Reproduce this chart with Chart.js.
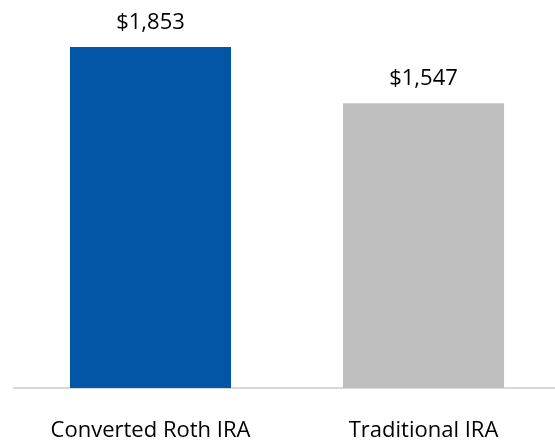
<!DOCTYPE html>
<html>
<head>
<meta charset="utf-8">
<script src="https://cdn.jsdelivr.net/npm/chart.js@4"></script>
<style>
  html, body { margin: 0; padding: 0; background: #fff; overflow: hidden; }
  #wrap { width: 565px; height: 474px; }
</style>
</head>
<body>
<div id="wrap"><canvas id="chart" width="565" height="474"></canvas></div>
<script>
// Chart data
const categories = ['Converted Roth IRA', 'Traditional IRA'];
const values = [1853, 1547];
const barColors = ['#0256A5', '#BFBFBF'];

const fontFamily = "'Open Sans', 'Noto Sans', sans-serif";

// Draw "$1,853" style labels above each bar
const valueLabels = {
    id: 'valueLabels',
    afterDatasetsDraw(chart) {
        const ctx = chart.ctx;
        const meta = chart.getDatasetMeta(0);
        ctx.save();
        ctx.font = `22px ${fontFamily}`;
        ctx.fillStyle = '#000';
        ctx.textAlign = 'center';
        ctx.textBaseline = 'alphabetic';
        meta.data.forEach((bar, i) => {
            ctx.fillText('$' + values[i].toLocaleString('en-US'), bar.x, bar.y - 18);
        });
        ctx.restore();
    }
};

// canvas is a bit taller than the window; the part below the labels is cut off
new Chart(document.getElementById('chart'), {
    type: 'bar',
    data: {
        labels: categories,
        datasets: [{
            data: values,
            backgroundColor: barColors,
            categoryPercentage: 1,
            barPercentage: 0.59
        }]
    },
    options: {
        responsive: false,
        animation: false,
        layout: { padding: { left: 14, right: 5, top: 20, bottom: 0 } },
        plugins: {
            legend: { display: false },
            tooltip: { enabled: false }
        },
        scales: {
            x: {
                grid: { display: false, drawTicks: false },
                border: { color: '#D9D9D9', width: 2 },
                ticks: {
                    color: '#000',
                    padding: 32,
                    font: { family: fontFamily, size: 22, lineHeight: 1 }
                }
            },
            y: {
                display: false,
                min: 0,
                max: 2000
            }
        }
    },
    plugins: [valueLabels]
});
</script>
</body>
</html>
